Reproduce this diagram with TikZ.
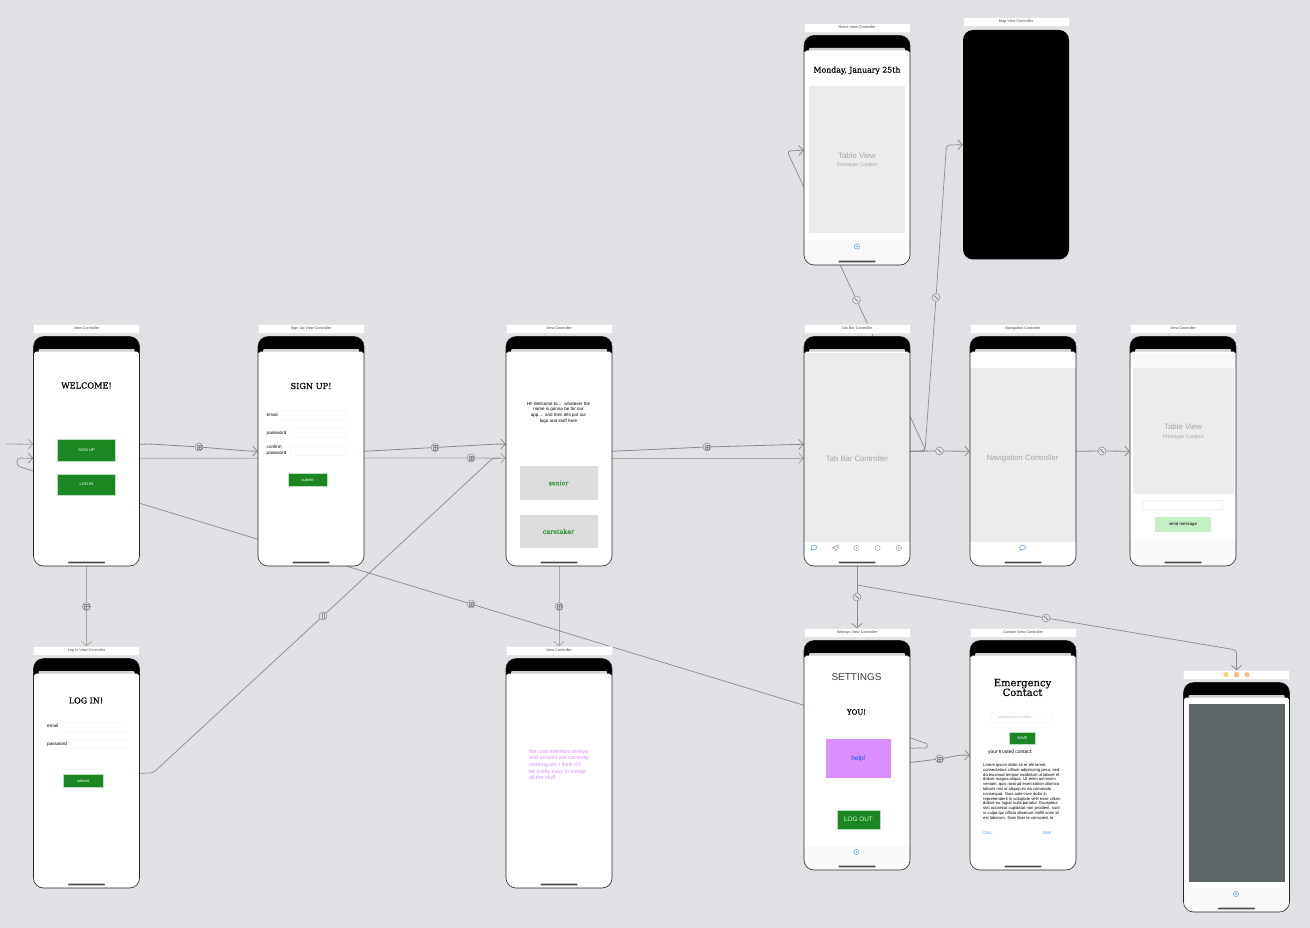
\documentclass[tikz,border=0pt]{standalone}
\usepackage{fontspec}
\setmainfont{Liberation Sans}
\newfontfamily\slab[FakeBold=0.35]{DejaVu Serif}
\usetikzlibrary{arrows.meta,backgrounds,calc}
\definecolor{bgcol}{HTML}{E0E1E5}
\definecolor{linegray}{HTML}{8C8C8E}
\definecolor{tablegray}{HTML}{EBEBEB}
\definecolor{barwhite}{HTML}{F9F9F9}
\definecolor{btngreen}{HTML}{1A8722}
\definecolor{btnedge}{HTML}{BFDCC0}
\definecolor{btngray}{HTML}{DCDCDC}
\definecolor{lightgreen}{HTML}{C5EFC5}
\definecolor{purplefill}{HTML}{DB8EFF}
\definecolor{purpletxt}{HTML}{D98CFF}
\definecolor{linkblue}{HTML}{4A9BFF}
\definecolor{slategray}{HTML}{5E6566}
\definecolor{textgray}{HTML}{A6A6A8}
\newcommand{\fs}[2]{\fontsize{#1}{#2}\selectfont}
\tikzset{
  x=1pt,y=-1pt,
  titlebar/.style={fill=white,draw=white!90!black,line width=.2pt,minimum width=106pt,minimum height=8.5pt,inner sep=0,text height=2.8pt,text depth=.8pt,text=black!70,font=\fs{3.8}{4}},
  phonebody/.style={rounded corners=10pt,fill=white,minimum width=106pt,minimum height=229.5pt,inner sep=0},
  txt/.style={inner sep=0,align=center,text=black},
  ltxt/.style={inner sep=0,anchor=west,align=left,text=black},
  slabtxt/.style={txt,font=\slab\fs{#1}{#1}},
  greenbtn/.style={fill=btngreen,draw=btnedge,line width=.4pt,inner sep=0,text=white},
  field/.style={fill=white,draw=black!8,line width=.4pt,inner sep=0,rounded corners=.6pt},
  seg/.style={draw=linegray,line width=.8pt,rounded corners=3.5pt},
  segarrow/.style={seg,-{Straight Barb[length=4.5pt,width=10pt,line width=.8pt]}},
  paleseg/.style={seg,draw=black!35},
  palearrow/.style={segarrow,draw=black!35},
  badge/.style={circle,draw=linegray,fill=bgcol,line width=.5pt,minimum size=8pt,inner sep=0},
  badgegrid/.style={badge,path picture={
    \draw[linegray,line width=.4pt] ([shift={(-2.2pt,-2.2pt)}]path picture bounding box.center) rectangle ++(4.4pt,4.4pt);
    \draw[linegray,line width=.4pt] ([shift={(-2.2pt,0pt)}]path picture bounding box.center) -- ++(4.4pt,0pt);
    \draw[linegray,line width=.4pt] ([shift={(0pt,-2.2pt)}]path picture bounding box.center) -- ++(0pt,4.4pt);}},
  badgerel/.style={badge,path picture={
    \draw[black!60,line width=.6pt] ([shift={(-1.8pt,1.8pt)}]path picture bounding box.center) -- ++(3.6pt,-3.6pt);}},
  badgemodal/.style={badge,path picture={
    \draw[linegray,line width=.5pt] ([shift={(-1pt,-3pt)}]path picture bounding box.center) -- ++(0pt,6pt);
    \draw[linegray,line width=.5pt] ([shift={(1.2pt,-3pt)}]path picture bounding box.center) -- ++(0pt,6pt);}},
}
% name, x, top, title, extra fills clipped to the screen
\newcommand{\phone}[5]{%
  \node[titlebar] (#1t) at ({#2+53},{#3-7.75}) {#4};
  \node[phonebody] (#1) at ({#2+53},{#3+114.75}) {};
  \begin{scope}
    \clip[rounded corners=10pt] (#2,#3) rectangle ({#2+106},{#3+229.5});
    \fill[black] (#2,#3) rectangle ({#2+106},{#3+16.5});
    \fill[black!18,rounded corners=1pt] ({#2+5},{#3+12.5}) rectangle ({#2+101},{#3+18});
    \fill[white,rounded corners=2pt] ({#2+1},{#3+15}) rectangle ({#2+105},{#3+24});
    \fill[white] (#2,{#3+16.5}) rectangle ({#2+106},{#3+229.5});
    #5
  \end{scope}
  \draw[black!85,line width=.6pt,rounded corners=10pt] (#2,#3) rectangle ({#2+106},{#3+229.5});
  \fill[black!70,rounded corners=.7pt] ({#2+34.5},{#3+225.2}) rectangle ({#2+71.5},{#3+226.8});
}
\newcommand{\bubble}[3]{\draw[#3,line width=.45pt] (#1,#2) ellipse (3pt and 2.4pt); \draw[#3,line width=.45pt] ({#1-2},{#2+1.8}) -- ({#1-2.8},{#2+3}) -- ({#1-.6},{#2+2.3});}
\newcommand{\disc}[3]{\draw[#3,line width=.45pt] (#1,#2) circle (2.6pt); \fill[#3] (#1,#2) circle (.9pt);}
\begin{document}
\begin{tikzpicture}
\useasboundingbox (0,0) rectangle (1310,928);

%% ---------- phones ----------
\phone{welcome}{33.5}{336.5}{View Controller}{}
\node[slabtxt=8.2] (welcomeh) at (86.5,385.5) {WELCOME!};
\node[greenbtn,minimum width=58pt,minimum height=21.5pt,font=\fs{4}{5}] (signupb) at (86.5,450) {SIGN UP};
\node[greenbtn,minimum width=58pt,minimum height=21.5pt,font=\fs{4}{5}] (loginb) at (86.5,484.5) {LOG IN};

\phone{signup}{258}{336.5}{Sign Up View Controller}{}
\node[slabtxt=8.2] (signuph) at (311,386) {SIGN UP!};
\node[ltxt,font=\fs{4.6}{5}] (sl1) at (266.5,414.5) {email};
\node[field,minimum width=64.5pt,minimum height=9pt] (sf1) at (313.2,415) {};
\node[ltxt,font=\fs{4.6}{5}] (sl2) at (266.5,433) {password};
\node[field,minimum width=55pt,minimum height=9pt] (sf2) at (318,433) {};
\node[ltxt,font=\fs{4.6}{5.6}] (sl3) at (266.5,450.5) {confirm\\password};
\node[field,minimum width=55pt,minimum height=8.5pt] (sf3) at (318,451) {};
\node[greenbtn,minimum width=39pt,minimum height=13pt,font=\fs{4}{5}] (submit1) at (307.5,480) {submit};

\phone{senior}{506}{336.5}{View Controller}{}
\node[txt,font=\fs{4.5}{5.6}] (hi) at (558.5,412.5) {HI! Welcome to.... whatever the\\name is gonna be for our\\app.... and then lets put our\\logo and stuff here};
\node[fill=btngray,minimum width=78pt,minimum height=33.5pt,inner sep=0,text=btngreen!90!white,font=\slab\fs{6.2}{7}] (seniorb) at (558.5,483) {senior};
\node[fill=btngray,minimum width=78pt,minimum height=33.5pt,inner sep=0,text=btngreen!90!white,font=\slab\fs{6.4}{7}] (careb) at (558.5,531.5) {caretaker};

\phone{tab}{804}{336.5}{Tab Bar Controller}{\fill[tablegray] (804,353) rectangle (910,541.5);}
\node[txt,text=textgray,font=\fs{7.7}{9}] (tabl) at (857,458.5) {Tab Bar Controller};
\bubble{814}{547.5}{linkblue}
\draw[black!45,line width=.45pt] (832,548) -- (838.5,545) -- (836,551) -- (835,548.5) -- cycle;
\disc{856.5}{548}{black!35}
\draw[black!40,line width=.45pt] (877.5,548) circle (2.6pt);
\disc{899}{548}{black!40}

\phone{nav}{970}{336.5}{Navigation Controller}{\fill[tablegray] (970,367.5) rectangle (1076,541.5);}
\node[txt,text=textgray,font=\fs{7.7}{9}] (navl) at (1022.5,458.5) {Navigation Controller};
\bubble{1022.5}{547.5}{linkblue}

\phone{chat}{1130}{336.5}{View Controller}{\fill[barwhite] (1130,353) rectangle (1236,368); \fill[barwhite] (1130,541) rectangle (1236,566);}
\node[fill=tablegray,minimum width=101pt,minimum height=126pt,inner sep=0] (chattable) at (1183,431) {};
\node[txt,text=textgray,font=\fs{7.8}{9}] (chattv) at (1183,427) {Table View};
\node[txt,text=textgray,font=\fs{5}{6}] (chatpc) at (1183,437) {Prototype Content};
\node[field,draw=black!18,minimum width=80.5pt,minimum height=9pt] (chatfield) at (1182.7,505) {};
\node[fill=lightgreen,minimum width=56pt,minimum height=14.5pt,inner sep=0,font=\fs{4.3}{5}] (sendb) at (1183,524.7) {send message};

\phone{home}{804}{35.5}{Home View Controller}{\fill[barwhite] (804,240) rectangle (910,266);}
\node[slabtxt=7.8] (homeh) at (857,70.5) {Monday, January 25th};
\node[fill=tablegray,minimum width=96pt,minimum height=147.5pt,inner sep=0] (hometable) at (857,159.7) {};
\node[txt,text=textgray,font=\fs{7.8}{9}] (hometv) at (857,156) {Table View};
\node[txt,text=textgray,font=\fs{5}{6}] (homepc) at (857,165.5) {Prototype Content};
\disc{857}{246.5}{linkblue}

\node[titlebar] (mapt) at (1016,21.75) {Map View Controller};
\node[phonebody,fill=black] (map) at (1016,144.75) {};

\phone{login}{33.5}{658.5}{Log In View Controller}{}
\node[slabtxt=8] (loginh) at (86,700.5) {LOG IN!};
\node[ltxt,font=\fs{4.6}{5}] (ll1) at (47,726) {email};
\node[field,minimum width=65pt,minimum height=9pt] (lf1) at (94,727) {};
\node[ltxt,font=\fs{4.6}{5}] (ll2) at (47,744.5) {password};
\node[field,minimum width=56pt,minimum height=9pt] (lf2) at (98.5,744) {};
\node[greenbtn,minimum width=39.5pt,minimum height=13pt,font=\fs{4}{5}] (submit2) at (83,780.7) {submit};

\phone{view}{506}{658.5}{View Controller}{}
\node[ltxt,text=purpletxt,font=\fs{5.4}{6.6}] (purple) at (529,764.5) {the cool interface shreya\\and oorushi are currently\\working on! i think it'll\\be pretty easy to merge\\all the stuff};

\phone{settings}{804}{640.5}{Settings View Controller}{\fill[barwhite] (804,845.5) rectangle (910,871);}
\node[txt,font=\fs{10}{12},text=black!75] (settingsh) at (856.5,677.5) {SETTINGS};
\node[slabtxt=7] (you) at (856.5,712) {YOU!};
\node[fill=purplefill,minimum width=65pt,minimum height=39pt,inner sep=0,text=blue!65!cyan,font=\fs{6.6}{8}] (help) at (858.5,758.5) {help!};
\node[greenbtn,minimum width=43pt,minimum height=19pt,text=white!85!green,font=\fs{6.4}{8}] (logout) at (858.5,819.7) {LOG OUT};
\disc{856.5}{852}{linkblue}

\phone{contact}{970}{640.5}{Contact View Controller}{}
\node[txt,font=\slab\fs{10}{9.7}] (emerg) at (1022.5,687.5) {Emergency\\Contact};
\node[field,minimum width=62pt,minimum height=9.5pt,text=black!30,font=\fs{3.4}{4}] (upd) at (1022.5,717.7) {\hspace*{-15pt}update phone number};
\node[greenbtn,minimum width=26.5pt,minimum height=12.5pt,font=\fs{4}{5}] (save) at (1022.2,738.2) {SAVE};
\node[ltxt,font=\fs{4.9}{5}] (trusted) at (988,752) {your trusted contact:};
\node[ltxt,font=\fs{4.15}{4.8}] (lorem) at (983,791.5) {Lorem ipsum dolor sit er elit lamet,\\consectetaur cillium adipisicing pecu, sed\\do eiusmod tempor incididunt ut labore et\\dolore magna aliqua. Ut enim ad minim\\veniam, quis nostrud exercitation ullamco\\laboris nisi ut aliquip ex ea commodo\\consequat. Duis aute irure dolor in\\reprehenderit in voluptate velit esse cillum\\dolore eu fugiat nulla pariatur. Excepteur\\sint occaecat cupidatat non proident, sunt\\in culpa qui officia deserunt mollit anim id\\est laborum. Nam liber te conscient to};
\node[txt,text=linkblue,font=\fs{4}{5}] (call) at (987.5,833.5) {CALL};
\node[txt,text=linkblue,font=\fs{4}{5}] (sms) at (1047,833.5) {SMS};

\phone{last}{1183.5}{682.5}{}{\fill[barwhite] (1183.5,888) rectangle (1289.5,912);}
\node[fill=slategray,minimum width=96pt,minimum height=178pt,inner sep=0] (dark) at (1236.5,792.5) {};
\disc{1236}{894}{linkblue}
\fill[yellow!45!orange!55!white] (1226,674.7) circle (2.7pt);
\fill[orange!55!white] (1236.5,674.7) circle (2.7pt);
\fill[orange!50!white] (1247,674.7) circle (2.7pt);

%% ---------- connectors, behind the phones ----------
\begin{pgfonlayer}{background}
\fill[bgcol] (0,0) rectangle (1310,928);
\node[badgegrid] (b1) at (199,447) {};
\node[badgegrid] (b2) at (435,447.5) {};
\node[badgegrid] (b3) at (471,458) {};
\node[badgegrid] (b4) at (707,447) {};
\node[badgegrid] (b5) at (86.5,606.5) {};
\node[badgegrid] (b6) at (559,606.5) {};
\node[badgemodal] (b7) at (323,616) {};
\node[badgegrid] (b8) at (471,604) {};
\node[badgerel] (b9) at (856.5,300) {};
\node[badgerel] (b10) at (936,297.5) {};
\node[badgerel] (b11) at (939.5,451) {};
\node[badgerel] (b12) at (1102,451) {};
\node[badgerel] (b13) at (857,597) {};
\node[badgerel] (b14) at (1046,618) {};
\node[badgegrid] (b15) at (939.5,759) {};

\coordinate (start) at (6,444);
\coordinate (tabfork) at (857,585);
\draw[palearrow] (start) -- ([yshift=7pt]welcome.west);
% welcome -> sign up
\draw[seg] ([yshift=7pt]welcome.east) -- (150,444) -- (b1);
\draw[segarrow] (b1) -- (248,451) -- (signup.west);
% sign up -> senior
\draw[seg] (signup.east) -- (b2);
\draw[segarrow] (b2) -- (498,444) -- ([yshift=7pt]senior.west);
% welcome -> senior (long straight line)
\draw[paleseg] ([yshift=-7pt]welcome.east) -- (b3);
\draw[palearrow] (b3) -- ([yshift=-7pt]senior.west);
% log in -> senior
\draw[seg,line width=.7pt] (login.east) -- (153,773) -- (b7);
\draw[seg,line width=.7pt] (b7) -- (493,458) -- (500,458);
% senior -> tab
\draw[seg] (senior.east) -- (b4);
\draw[segarrow] (b4) -- ([yshift=7pt]tab.west);
\draw[palearrow] ([yshift=-7pt]senior.east) -- ([yshift=-7pt]tab.west);
% verticals
\draw[paleseg] (welcome.south) -- (b5);
\draw[palearrow] (b5) -- (logint.north);
\draw[paleseg] (senior.south) -- (b6);
\draw[palearrow] (b6) -- (viewt.north);
% settings -> welcome, loop at the left
\draw[seg,line width=.7pt] ([yshift=50pt]settings.west) -- (b8);
\draw[segarrow,line width=.7pt] (b8) -- (17,466) -- (17,458) -- ([yshift=-7pt]welcome.west);
% tab -> home
\draw[seg,line width=.7pt] (tab.east) -- (926,451) -- (b9);
\draw[segarrow,line width=.7pt] (b9) -- (787,151) -- (home.west);
% tab -> map
\draw[seg,line width=.7pt] (tab.east) -- (925,451) -- (b10);
\draw[segarrow,line width=.7pt] (b10) -- (946.5,145) -- (map.west);
% tab -> nav -> chat
\draw[seg] (tab.east) -- (b11);
\draw[segarrow] (b11) -- (nav.west);
\draw[seg] (nav.east) -- (b12);
\draw[segarrow] (b12) -- (chat.west);
% tab -> settings, tab -> last
\draw[seg] (tab.south) -- (b13);
\draw[segarrow] (b13) -- (settingst.north);
\draw[seg,line width=.7pt] (tabfork) -- (b14);
\draw[segarrow,line width=.7pt] (b14) -- (1236.5,650) -- (lastt.north);
% settings -> contact and self loop
\draw[seg] ([yshift=-7.2pt]settings.east) -- (b15);
\draw[segarrow] (b15) -- (960,755) -- (contact.west);
\draw[seg,line width=.7pt] ([yshift=17.5pt]settings.east) -- (922,742) .. controls (928,744) and (928,748) .. (922,748) -- ([yshift=7pt]settings.east);
\end{pgfonlayer}
\end{tikzpicture}
\end{document}
